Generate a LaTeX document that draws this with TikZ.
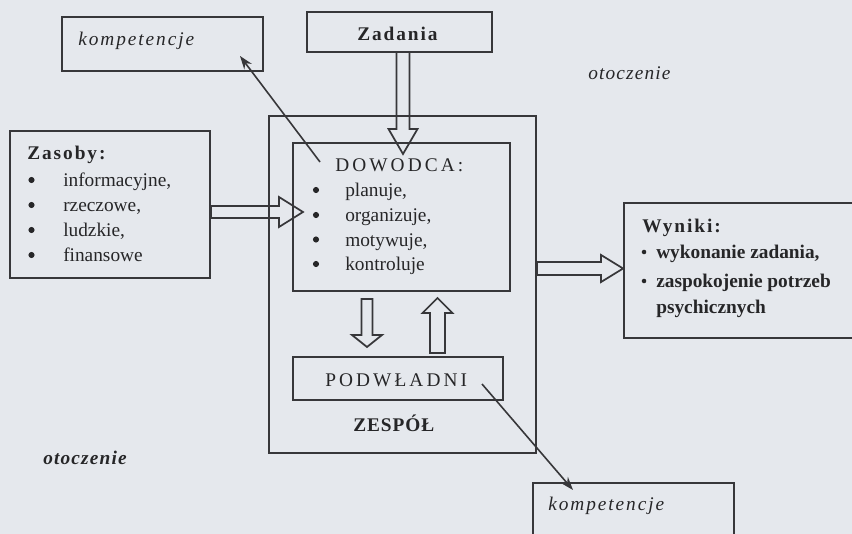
\documentclass[tikz,border=0pt]{standalone}
\usepackage{fontspec}
\setmainfont{Liberation Serif}
\usetikzlibrary{fit,calc,arrows.meta}
\definecolor{paper}{RGB}{229,232,237}
\definecolor{ink}{RGB}{55,55,58}
\definecolor{tink}{RGB}{38,38,40}
\newcommand\blockH[5]{% from #1 to #2 horizontally; shaft half #3, head half #4, head length #5 (px)
  \draw[blk] let \p1=(#1), \p2=(#2) in
    (\x1,{\y1+#3*0.75pt}) -- ({\x2-#5*0.75pt},{\y1+#3*0.75pt}) -- ({\x2-#5*0.75pt},{\y1+#4*0.75pt})
    -- (\x2,\y1) -- ({\x2-#5*0.75pt},{\y1-#4*0.75pt}) -- ({\x2-#5*0.75pt},{\y1-#3*0.75pt})
    -- (\x1,{\y1-#3*0.75pt}) -- cycle;}
\newcommand\blockV[5]{% from #1 to #2 vertically
  \draw[blk] let \p1=(#1), \p2=(#2), \n1={sign(\y2-\y1)} in
    ({\x1+#3*0.75pt},\y1) -- ({\x1+#3*0.75pt},{\y2-\n1*#5*0.75pt}) -- ({\x1+#4*0.75pt},{\y2-\n1*#5*0.75pt})
    -- (\x1,\y2) -- ({\x1-#4*0.75pt},{\y2-\n1*#5*0.75pt}) -- ({\x1-#3*0.75pt},{\y2-\n1*#5*0.75pt})
    -- ({\x1-#3*0.75pt},\y1) -- cycle;}
\begin{document}
\begin{tikzpicture}[x=0.75pt,y=-0.75pt,
  box/.style={draw=ink,line width=1.4pt,inner sep=0pt},
  blk/.style={draw=ink,line width=1.3pt,line join=miter},
  thin/.style={draw=ink,line width=1.2pt,-{Stealth[length=10pt,width=7pt]}},
  txt/.style={inner sep=0pt,anchor=base west,text=tink,font=\fontsize{14.5}{17}\selectfont},
  caps/.style={txt,font=\fontsize{14.5}{17}\selectfont\addfontfeature{LetterSpace=16}},
  bhead/.style={txt,font=\fontsize{14.5}{17}\selectfont\bfseries\addfontfeature{LetterSpace=10}},
  itl/.style={txt,font=\fontsize{14.5}{17}\selectfont\itshape\addfontfeature{LetterSpace=10}},
  dot/.style={circle,fill=tink,inner sep=0pt,minimum size=4.6pt},
  sdot/.style={circle,fill=tink,inner sep=0pt,minimum size=3.4pt}
]
\fill[paper] (0,0) rectangle (852,534);
\useasboundingbox (0,0) rectangle (852,534);
\clip (0,0) rectangle (852,534);

% boxes
\node[box,fit={(62,17) (263,71)}] (komp1) {};
\node[box,fit={(307,12) (492,52)}] (zad) {};
\node[box,fit={(269,116) (536,453)}] (zespol) {};
\node[box,fit={(293,143) (510,291)}] (dow) {};
\node[box,fit={(10,131) (210,278)}] (zas) {};
\node[box,fit={(624,203) (862,338)}] (wyn) {};
\node[box,fit={(293,357) (503,400)}] (pod) {};
\node[box,fit={(533,483) (734,550)}] (komp2) {};

% texts
\node[itl] (komp1t) at (78,46) {kompetencje};
\node[bhead] (zadt) at (357,41) {Zadania};
\node[itl,font=\fontsize{14.5}{17}\selectfont\itshape\addfontfeature{LetterSpace=6}] (oto1) at (588,80) {otoczenie};

\node[bhead] (zast) at (27,160) {Zasoby:};
\foreach \t/\y [count=\i] in {{informacyjne,}/187, {rzeczowe,}/212, {ludzkie,}/237, {finansowe}/262}{
  \node[dot] (zasb\i) at (31.5,\y-7) {};
  \node[txt] (zasi\i) at (63,\y) {\t};
}

\node[caps] (dowt) at (335,172) {DOWODCA:};
\foreach \t/\y [count=\i] in {{planuje,}/197, {organizuje,}/222, {motywuje,}/246.5, {kontroluje}/271}{
  \node[dot] (dowb\i) at (316,\y-7) {};
  \node[txt] (dowi\i) at (345,\y) {\t};
}

\node[caps] (podt) at (325,386) {PODWŁADNI};
\node[bhead,font=\fontsize{14.5}{17}\selectfont\bfseries\addfontfeature{LetterSpace=5}] (zest) at (353,431) {ZESPÓŁ};

\node[bhead] (wynt) at (642,233) {Wyniki:};
\node[sdot] (wynb1) at (644,252) {};
\node[txt,font=\fontsize{14.5}{17}\selectfont\bfseries] (wyni1) at (656,259) {wykonanie zadania,};
\node[sdot] (wynb2) at (644,281) {};
\node[txt,font=\fontsize{14.5}{17}\selectfont\bfseries] (wyni2) at (656,288) {zaspokojenie potrzeb};
\node[txt,font=\fontsize{14.5}{17}\selectfont\bfseries] (wyni3) at (656,313) {psychicznych};

\node[itl] (komp2t) at (548,510) {kompetencje};
\node[itl,font=\fontsize{14.5}{17}\selectfont\bfseries\itshape\addfontfeature{LetterSpace=6}] (oto2) at (43,464) {otoczenie};

% block arrows
\coordinate (zasA) at (zas.east |- 0,212);
\coordinate (zasB) at (303,212);
\blockH{zasA}{zasB}{6}{15}{24}

\coordinate (zadA) at (403,52);
\coordinate (zadB) at (403,154);
\blockV{zadA}{zadB}{6.5}{14.5}{25}

\coordinate (wynA) at (zespol.east |- 0,268.5);
\coordinate (wynB) at (wyn.west |- 0,268.5);
\blockH{wynA}{wynB}{6.5}{13.5}{22}

\coordinate (dnA) at (367,299);
\coordinate (dnB) at (367,347);
\blockV{dnA}{dnB}{5.5}{15}{12}

\coordinate (upA) at (437.5,353);
\coordinate (upB) at (437.5,298);
\blockV{upA}{upB}{7.5}{15}{15}

% thin arrows
\coordinate (k1s) at (320,162);
\coordinate (k1e) at (240,56);
\draw[thin] (k1s) -- (k1e);
\coordinate (k2s) at (482,384);
\coordinate (k2e) at (573,490);
\draw[thin] (k2s) -- (k2e);
\end{tikzpicture}
\end{document}
